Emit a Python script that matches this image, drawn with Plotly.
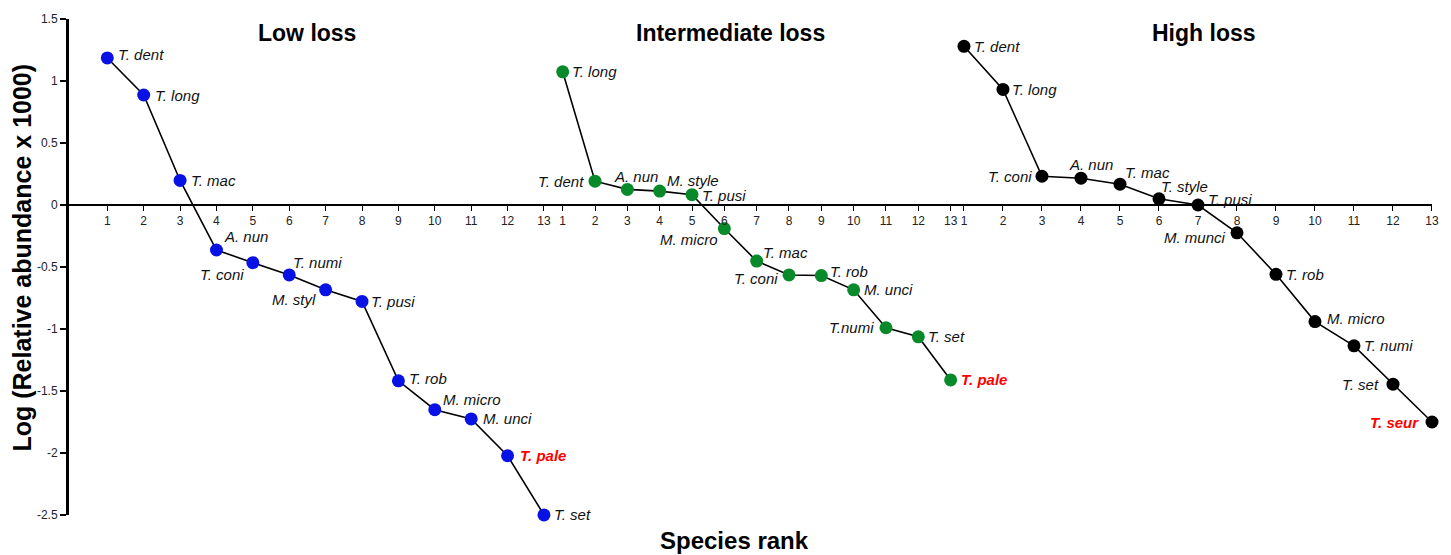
import plotly.graph_objects as go

# ---------------- data ----------------
ranks = list(range(1, 14))

low_species = ["T. dent", "T. long", "T. mac", "A. nun", "T. coni", "T. numi", "M. styl",
               "T. pusi", "T. rob", "M. micro", "M. unci", "T. pale", "T. set"]
low_values = [1.186, 0.887, 0.198, -0.363, -0.465, -0.564, -0.684,
              -0.778, -1.418, -1.651, -1.725, -2.022, -2.499]

mid_species = ["T. long", "T. dent", "A. nun", "M. style", "T. pusi", "M. micro", "T. mac",
               "T. coni", "T. rob", "M. unci", "T.numi", "T. set", "T. pale"]
mid_values = [1.074, 0.192, 0.126, 0.112, 0.083, -0.190, -0.452,
              -0.564, -0.569, -0.684, -0.990, -1.063, -1.411]

high_species = ["T. dent", "T. long", "T. coni", "A. nun", "T. mac", "T. style", "T. pusi",
                "M. munci", "T. rob", "M. micro", "T. numi", "T. set", "T. seur"]
high_values = [1.280, 0.932, 0.232, 0.216, 0.168, 0.050, 0.000,
               -0.224, -0.559, -0.940, -1.136, -1.445, -1.750]

group_titles = ["Low loss", "Intermediate loss", "High loss"]
highlighted = {"T. pale", "T. seur"}

y_tickvals = [-2.5, -2, -1.5, -1, -0.5, 0, 0.5, 1, 1.5]
y_ticktext = ["-2.5", "-2", "-1.5", "-1", "-0.5", "0", "0.5", "1", "1.5"]

# ---------------- styles ----------------
colors = ["#0812E4", "#098A2A", "#000000"]
# label placement per point: (xanchor, xshift, yshift)
low_lab = [("left", 9, 3), ("left", 9, 0), ("left", 9, 0), ("left", 6, 14), ("right", -7, -12),
           ("left", 2, 12), ("right", -8, -10), ("left", 7, 0), ("left", 9, 2), ("left", 6, 10),
           ("left", 10, 0), ("left", 10, 0), ("left", 8, 0)]
mid_lab = [("left", 7, 0), ("right", -9, 0), ("center", 9, 13), ("left", 5, 11), ("left", 8, -1),
           ("right", -4, -11), ("left", 4, 9), ("right", -9, -4), ("left", 7, 4), ("left", 8, 0),
           ("right", -10, 0), ("left", 8, 0), ("left", 8, 0)]
high_lab = [("left", 8, 0), ("left", 7, 0), ("right", -8, 0), ("center", 10, 14), ("left", 3, 12),
            ("left", 0, 12), ("left", 8, 6), ("right", -9, -5), ("left", 8, 0), ("left", 10, 3),
            ("left", 8, 0), ("right", -12, 0), ("right", -11, 0)]

FONT = "Liberation Sans, Arial, sans-serif"
TICKFONT = "Liberation Sans Narrow, Arial Narrow, Liberation Sans, Arial, sans-serif"

groups = [
    (low_species, low_values, low_lab, "x"),
    (mid_species, mid_values, mid_lab, "x2"),
    (high_species, high_values, high_lab, "x3"),
]

fig = go.Figure()
annotations = []
for gi, (sp, vals, labs, xref) in enumerate(groups):
    fig.add_trace(go.Scatter(
        x=ranks, y=vals, xaxis=xref, yaxis="y",
        mode="lines+markers",
        line=dict(color="black", width=1.6),
        marker=dict(color=colors[gi], size=13, line=dict(width=0)),
        cliponaxis=False, showlegend=False, hoverinfo="skip",
    ))
    for r, v, name, (anc, dx, dy) in zip(ranks, vals, sp, labs):
        hl = name in highlighted
        txt = f"<b><i>{name}</i></b>" if hl else f"<i>{name}</i>"
        annotations.append(dict(
            x=r, y=v, xref=xref, yref="y", text=txt, showarrow=False,
            xanchor=anc, yanchor="middle", xshift=dx, yshift=dy,
            font=dict(family=FONT, size=15, color="#FF0000" if hl else "#111111"),
        ))

# group titles
for title, xc in zip(group_titles, [0.1746, 0.485, 0.8327]):
    annotations.append(dict(
        x=xc, y=0.972, xref="paper", yref="paper", text=f"<b>{title}</b>",
        showarrow=False, xanchor="center", yanchor="middle",
        font=dict(family=FONT, size=23, color="black"),
    ))

# axis titles
annotations.append(dict(
    x=0.4886, y=-0.052, xref="paper", yref="paper", text="<b>Species rank</b>",
    showarrow=False, xanchor="center", yanchor="middle",
    font=dict(family=FONT, size=24, color="black"),
))
annotations.append(dict(
    x=-0.0345, y=0.519, xref="paper", yref="paper",
    text="<b>Log (Relative abundance x 1000)</b>", textangle=-90,
    showarrow=False, xanchor="center", yanchor="middle",
    font=dict(family=FONT, size=25, color="black"),
))

xcommon = dict(
    anchor="free", position=0.625, showline=True, linecolor="black", linewidth=2,
    ticks="outside", ticklen=5, tickwidth=1.3, tickcolor="black",
    tickvals=ranks, ticktext=[str(r) for r in ranks],
    tickfont=dict(family=TICKFONT, size=12, color="#222222"),
    showgrid=False, zeroline=False, fixedrange=True,
)

fig.update_layout(
    width=1451, height=555,
    margin=dict(l=69, r=19, t=16, b=40),
    paper_bgcolor="white", plot_bgcolor="white",
    xaxis=dict(domain=[0, 0.3553], range=[-0.0525, 13.256], **xcommon),
    xaxis2=dict(domain=[0.3553, 0.6517], range=[0.709, 13.205], **xcommon),
    xaxis3=dict(domain=[0.6517, 1.0], range=[0.828, 13.0], **xcommon),
    yaxis=dict(
        domain=[0, 1], range=[-2.5, 1.5], anchor="x",
        tickvals=y_tickvals, ticktext=y_ticktext,
        showline=True, linecolor="black", linewidth=3,
        ticks="outside", ticklen=6, tickwidth=1.5, tickcolor="black",
        tickfont=dict(family=TICKFONT, size=12, color="#222222"),
        showgrid=False, zeroline=False, fixedrange=True,
    ),
    annotations=annotations,
)

fig.write_html("out.html")
